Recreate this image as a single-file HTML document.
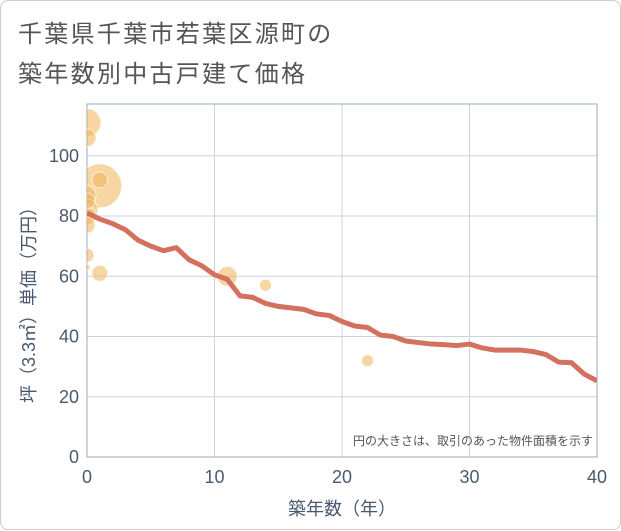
<!DOCTYPE html>
<html><head><meta charset="utf-8"><style>
body{margin:0;background:#fff;}
#card{position:absolute;left:0;top:0;width:619px;height:528px;border:1px solid #ccc;border-radius:8px;background:#fff;font-family:"Liberation Sans","Noto Sans CJK JP",sans-serif;}
.title{position:absolute;left:17px;font-size:24px;color:#555;letter-spacing:2.3px;white-space:nowrap;}
</style></head><body>
<div id="card">
<div class="title" style="top:13px">千葉県千葉市若葉区源町の</div>
<div class="title" style="top:53px">築年数別中古戸建て価格</div>
<svg id="chart" width="621" height="530" style="position:absolute;left:0;top:0"></svg>
</div>
<script>
const xTicks=[0,10,20,30,40];
const yTicks=[0,20,40,60,80,100];
const lineYears=[0,1,2,3,4,5,6,7,8,9,10,11,12,13,14,15,16,17,18,19,20,21,22,23,24,25,26,27,28,29,30,31,32,33,34,35,36,37,38,39,40];
const linePrices=[81,79,77.5,75.5,72,70,68.5,69.5,65.5,63.5,60.5,59,53.5,53,51,50,49.5,49,47.5,47,45,43.5,43,40.5,40,38.5,38,37.5,37.3,37,37.5,36.2,35.5,35.5,35.5,35,34,31.5,31.3,27.5,25.3];
const bubbleYears=[0,0,1,1,0,0,0,0,0,1,0,11,14,22,0];
const bubblePrices=[111,106,90,92,87,82,80,77,67,61,63,60,57,32,85];
const bubbleSizes=[14,9,22,8,9,11,9,8,7,8,3,10,6,6,8];
const NS="http://www.w3.org/2000/svg";
const svg=document.getElementById('chart');
const L=86,R=596,T=103,B=456,XMAX=40,YMAX=117.2;
const xs=v=>L+(v/XMAX)*(R-L);
const ys=v=>B-(v/YMAX)*(B-T);
function mk(t,a,p){const e=document.createElementNS(NS,t);for(const k in a)e.setAttribute(k,a[k]);(p||svg).appendChild(e);return e;}
const defs=mk('defs',{});
const cp=mk('clipPath',{id:'plotclip'},defs);
mk('rect',{x:L,y:T,width:R-L,height:B-T},cp);
xTicks.forEach(v=>{
 const g=mk('line',{x1:xs(v),x2:xs(v),y1:T,y2:B,stroke:'#c8d4e0','stroke-width':1});
 
 
 const t=mk('text',{x:xs(v),y:B+26,'text-anchor':'middle','font-size':18,fill:'#4a5a6e','font-family':'Liberation Sans, sans-serif'});
 t.textContent=v;
 
 
});
yTicks.forEach(v=>{
 const g=mk('line',{x1:L,x2:R,y1:ys(v),y2:ys(v),stroke:'#c8d4e0','stroke-width':1});
 
 
 const t=mk('text',{x:L-8,y:ys(v)+6,'text-anchor':'end','font-size':18,fill:'#4a5a6e','font-family':'Liberation Sans, sans-serif'});
 t.textContent=v;
 
 
});
const frame=mk('rect',{x:L,y:T,width:R-L,height:B-T,fill:'none',stroke:'#9aa8b8','stroke-width':1});


const gp=mk('g',{'clip-path':'url(#plotclip)'});


bubbleYears.forEach((yr,i)=>{
 const c=mk('circle',{cx:xs(yr),cy:ys(bubblePrices[i]),r:bubbleSizes[i],fill:'rgba(240,180,90,0.55)',stroke:'rgba(255,255,255,0.7)','stroke-width':1},gp);
 
 
});
const pl=mk('polyline',{points:lineYears.map((y,i)=>xs(y)+','+ys(linePrices[i])).join(' '),fill:'none',stroke:'#d4705e','stroke-width':5,'stroke-linejoin':'round'},gp);


const note=mk('text',{x:592,y:444,'text-anchor':'end','font-size':12,fill:'#555','font-family':'Liberation Sans, Noto Sans CJK JP, sans-serif'});
note.textContent='円の大きさは、取引のあった物件面積を示す';


const xt=mk('text',{x:(L+R)/2,y:514,'text-anchor':'middle','font-size':18,fill:'#4a5a6e','font-family':'Liberation Sans, Noto Sans CJK JP, sans-serif'});
xt.textContent='築年数（年）';


const yt=mk('text',{x:0,y:0,'text-anchor':'middle','font-size':18,fill:'#4a5a6e','font-family':'Liberation Sans, Noto Sans CJK JP, sans-serif',transform:'translate(34,'+((T+B)/2+20)+') rotate(-90)'});
yt.textContent='坪（3.3㎡）単価（万円）';


</script>
</body></html>
